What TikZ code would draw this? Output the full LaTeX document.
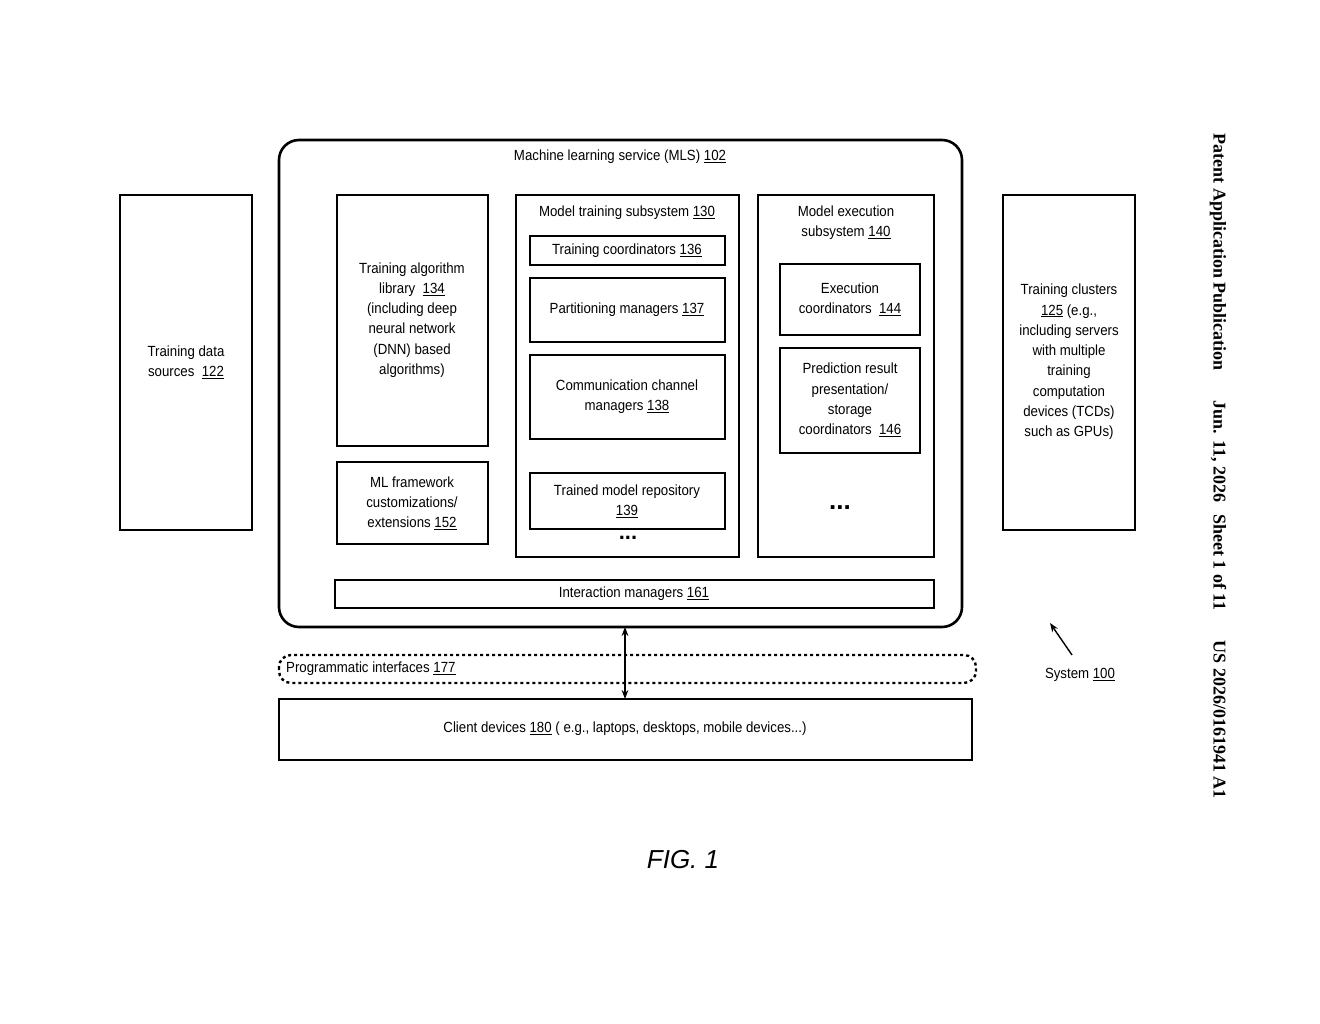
\documentclass[tikz,border=0pt]{standalone}
\usepackage{fontspec}
\setmainfont{Liberation Sans}
\newfontfamily\hdr{Liberation Serif}
\usetikzlibrary{arrows.meta}
\newcommand{\un}[1]{\underline{#1}}
\begin{document}
\begin{tikzpicture}[x=1pt,y=-1pt,
  bx/.style={draw,line width=2.6pt,fill=white},
  lb/.style={font=\fontsize{16}{22}\selectfont,align=center,inner sep=0pt,scale=0.92,xscale=0.9}]
\useasboundingbox (0,0) rectangle (1320,1024);
\fill[white] (0,0) rectangle (1320,1024);
% outer
\draw[bx,rounded corners=20pt] (279,140) rectangle (962,627) coordinate (mlsb);
\node[lb] (mls) at (620,157) {Machine learning service (MLS) \un{102}};
\draw[bx] (120,195) rectangle (252,530);
\node[lb] (tds) at (186,362) {Training data\\sources\ \ \un{122}};
\draw[bx] (1003,195) rectangle (1135,530);
\node[lb] (tc) at (1069,362) {Training clusters\\\un{125} (e.g.,\\including servers\\with multiple\\training\\computation\\devices (TCDs)\\such as GPUs)};
\draw[bx] (337,195) rectangle (488,446);
\node[lb] (tal) at (412,320) {Training algorithm\\library\ \ \un{134}\\(including deep\\neural network\\(DNN) based\\algorithms)};
\draw[bx] (337,462) rectangle (488,544);
\node[lb] (mlf) at (412,503) {ML framework\\customizations/\\extensions \un{152}};
\draw[bx] (516,195) rectangle (739,557);
\node[lb] (mts) at (627,213) {Model training subsystem \un{130}};
\draw[bx] (530,236) rectangle (725,265);
\node[lb] (tco) at (627,251) {Training coordinators \un{136}};
\draw[bx] (530,278) rectangle (725,342);
\node[lb] (pm) at (627,310) {Partitioning managers \un{137}};
\draw[bx] (530,355) rectangle (725,439);
\node[lb] (ccm) at (627,397) {Communication channel\\managers \un{138}};
\draw[bx] (530,473) rectangle (725,529);
\node[lb] (tmr) at (627,501) {Trained model repository\\\un{139}};
\node[font=\bfseries\fontsize{22}{22}\selectfont] (d1) at (628,538) {...};
\draw[bx] (758,195) rectangle (934,557);
\node[lb] (mes) at (846,223) {Model execution\\subsystem \un{140}};
\draw[bx] (780,264) rectangle (920,335);
\node[lb] (ec) at (850,299) {Execution\\coordinators\ \ \un{144}};
\draw[bx] (780,348) rectangle (920,453);
\node[lb] (prp) at (850,400) {Prediction result\\presentation/\\storage\\coordinators\ \ \un{146}};
\node[font=\bfseries\fontsize{26}{26}\selectfont] (d2) at (840,508) {...};
\draw[bx] (335,580) rectangle (934,608);
\node[lb] (im) at (634,594) {Interaction managers \un{161}};
\draw[line width=2.4pt,dashed,rounded corners=12pt] (279,655) rectangle (976,683);
\node[lb,anchor=west] (pi) at (286,669) {Programmatic interfaces \un{177}};
\draw[bx] (279,699) rectangle (972,760);
\node[lb] (cd) at (625,729) {Client devices \un{180} ( e.g., laptops, desktops, mobile devices...)};
\coordinate (a1) at (625,627); \coordinate (a2) at (625,699);
\draw[line width=1.4pt,{Stealth[length=9pt]}-{Stealth[length=9pt]}] (a1) -- (a2);
\node[lb] (sys) at (1080,675) {System \un{100}};
\coordinate (s1) at (1072,655); \coordinate (s2) at (1050,623);
\draw[line width=1.4pt,-{Stealth[length=9pt]}] (s1) -- (s2);
\node[font=\itshape\fontsize{26}{26}\selectfont] (fig) at (683,860) {FIG. 1};
\node[rotate=-90,font=\hdr\bfseries\fontsize{18}{18}\selectfont,anchor=west] (hd) at (1218,130)
 {Patent Application Publication\hspace{30pt}Jun. 11, 2026\hspace{12pt}Sheet 1 of 11\hspace{30pt}US 2026/0161941 A1};
\end{tikzpicture}
\end{document}
